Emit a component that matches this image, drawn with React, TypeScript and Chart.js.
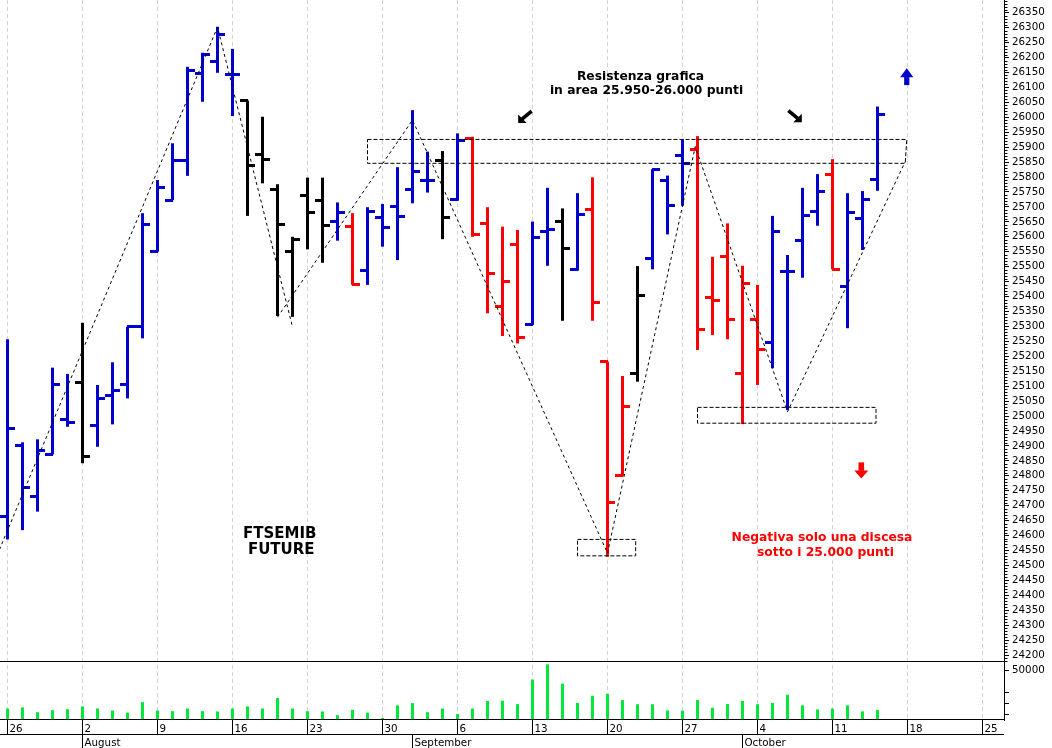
import React, { useEffect, useRef } from 'react';
import { Chart, registerables } from 'chart.js';

Chart.register(...registerables);

// Trading days counted from Monday 26 July (index 0) to Thursday 14 October (index 58)
const OPEN = [24665, 24901, 24732, 24872, 24989, 25112, 24967, 25070, 25106, 25299,
  25550, 25723, 25857, 26145, 26186, 26142, 26056, 25877, 25757, 25550,
  25737, 25723, 25651, 25634, 25486, 25665, 25703, 25757, 25787, 25857,
  25726, 25930, 25643, 25368, 25575, 25305, 25619, 25651, 25489, 25693,
  25182, 24800, 25141, 25528, 25787, 25871, 25891, 25397, 25533, 25143,
  25324, 25247, 25483, 25587, 25684, 25809, 25435, 25660, 25792];
const HIGH = [25257, 24912, 24922, 25162, 25141, 25312, 25104, 25180, 25299, 25679,
  25790, 25913, 26169, 26216, 26303, 26229, 26056, 26002, 25776, 25600,
  25798, 25798, 25715, 25679, 25699, 25710, 25833, 26024, 25885, 25887,
  25946, 25935, 25699, 25634, 25623, 25651, 25764, 25695, 25746, 25799,
  25182, 25134, 25502, 25826, 25805, 25926, 25937, 25533, 25645, 25503,
  25439, 25670, 25539, 25764, 25810, 25860, 25746, 25753, 26036];
const LOW = [24587, 24618, 24680, 24872, 24964, 24842, 24897, 24972, 25059, 25260,
  25550, 25723, 25804, 26052, 26149, 26004, 25670, 25779, 25335, 25332,
  25558, 25513, 25587, 25439, 25439, 25567, 25522, 25712, 25748, 25592,
  25721, 25600, 25344, 25268, 25243, 25305, 25503, 25319, 25487, 25319,
  24529, 24800, 25115, 25491, 25608, 25704, 25221, 25271, 25257, 24973,
  25104, 25160, 25020, 25463, 25637, 25491, 25294, 25556, 25754];
const CLOSE = [24957, 24761, 24884, 25107, 24979, 24866, 25059, 25085, 25299, 25642,
  25766, 25857, 26158, 26209, 26276, 26142, 25838, 25859, 25642, 25592,
  25683, 25638, 25683, 25441, 25684, 25632, 25667, 25820, 25787, 25665,
  25924, 25608, 25478, 25452, 25262, 25598, 25623, 25561, 25676, 25381,
  24711, 25031, 25402, 25826, 25706, 25844, 25288, 25386, 25324, 25444,
  25223, 25619, 25483, 25670, 25753, 25491, 25683, 25726, 26010];
// B = blue, R = red, K = black
const BAR_KIND = ['B', 'B', 'B', 'B', 'B', 'K', 'B', 'B', 'B', 'B',
  'B', 'B', 'B', 'B', 'B', 'B', 'K', 'K', 'K', 'K',
  'K', 'K', 'B', 'R', 'B', 'B', 'B', 'B', 'B', 'K',
  'B', 'R', 'R', 'R', 'R', 'B', 'B', 'K', 'B', 'R',
  'R', 'R', 'K', 'B', 'B', 'B', 'R', 'R', 'R', 'R',
  'R', 'B', 'B', 'B', 'B', 'R', 'B', 'B', 'B'];
const VOLUME = [15400, 16400, 12100, 13900, 14800, 17300, 15400, 13600, 11800, 21200,
  13600, 13000, 15400, 13000, 12700, 15400, 17300, 15400, 25000, 15400,
  13000, 12700, 9400, 14300, 11800, 6800, 18300, 20300, 12100, 15400,
  10300, 15400, 22200, 22500, 19400, 41700, 55500, 38000, 20500, 27000,
  28800, 23000, 19300, 19300, 13700, 13400, 23000, 16200, 19500, 22300,
  19300, 20500, 27900, 18300, 14600, 15300, 18300, 12800, 14000];

const WEEK_LABELS = ['26', '2', '9', '16', '23', '30', '6', '13', '20', '27', '4', '11', '18', '25'];
const WEEK_START_IDX = [0, 5, 10, 15, 20, 25, 30, 35, 40, 45, 50, 55, 60, 65];
const MONTH_LABELS = ['August', 'September', 'October'];
const MONTH_START_IDX = [5, 27, 49];

const PRICE_TICKS: number[] = [];
for (let v = 24200; v <= 26350; v += 50) PRICE_TICKS.push(v);
const VOLUME_TICKS = [10000, 20000, 30000, 50000];
const VOLUME_TICK_LABELS = ['', '', '', '50000'];

// Drawn trend lines (pivot points: day index, price)
const ZIGZAG_A_X = [-1, 14, 19];
const ZIGZAG_A_Y = [24497, 26302, 25298];
const ZIGZAG_B_X = [18, 27, 40, 45.85, 52, 59.83];
const ZIGZAG_B_Y = [25331, 25991, 24541, 25902, 25014, 25850];
// Dashed boxes
const RES_BOX_X = [24, 59.95, 59.85, 24, 24];
const RES_BOX_Y = [25926, 25926, 25846, 25846, 25926];
const LOW_BOX_X = [38, 41.88, 41.88, 38, 38];
const LOW_BOX_Y = [24587, 24587, 24532, 24532, 24587];
const SUP_BOX_X = [46, 57.9, 57.9, 46, 46];
const SUP_BOX_Y = [25029, 25029, 24976, 24976, 25029];

const NOTE_TEXTS = [
  { text: 'Resistenza grafica', x: 42.2, y: 26136, color: '#000000', size: 12.3 },
  { text: 'in area 25.950-26.000 punti', x: 42.6, y: 26088, color: '#000000', size: 12.3 },
  { text: 'FTSEMIB', x: 18.15, y: 24604, color: '#000000', size: 15 },
  { text: 'FUTURE', x: 18.25, y: 24551, color: '#000000', size: 15 },
  { text: 'Negativa solo una discesa', x: 54.3, y: 24591, color: '#FF0000', size: 12.3 },
  { text: 'sotto i 25.000 punti', x: 54.53, y: 24542, color: '#FF0000', size: 12.3 },
];
const NOTE_ARROWS = [
  { dir: 'downLeft', x: 34.5, y: 26001, color: '#000000' },
  { dir: 'downRight', x: 52.5, y: 26003, color: '#000000' },
  { dir: 'up', x: 59.95, y: 26136, color: '#0000CC' },
  { dir: 'down', x: 56.92, y: 24818, color: '#FF0000' },
];

const COLORS: Record<string, string> = { B: '#0000CC', R: '#FF0000', K: '#000000' };
const VOLUME_COLOR = '#00E83A';

const overlayPlugin = {
  id: 'overlay',
  afterDraw(chart: any) {
    const { ctx, chartArea } = chart;
    const xs = chart.scales.x;
    const ys = chart.scales.y;
    const px = (v: number) => xs.getPixelForValue(v);
    const py = (v: number) => ys.getPixelForValue(v);
    ctx.save();
    ctx.strokeStyle = '#000';
    ctx.lineWidth = 1;
    const hline = (x1: number, x2: number, y: number) => {
      ctx.beginPath(); ctx.moveTo(x1, y); ctx.lineTo(x2, y); ctx.stroke();
    };
    const vline = (x: number, y1: number, y2: number) => {
      ctx.beginPath(); ctx.moveTo(x, y1); ctx.lineTo(x, y2); ctx.stroke();
    };
    // pane separator
    hline(chartArea.left, chartArea.right, Math.round(ys.bottom) - 0.5);
    // date axis
    const axisY = Math.round(chartArea.bottom) - 0.5;
    const rowY = axisY + 15;
    hline(chartArea.left, chartArea.right, axisY);
    hline(chartArea.left, chartArea.right, rowY);
    ctx.fillStyle = '#000';
    ctx.font = '10.3px "DejaVu Sans"';
    ctx.textAlign = 'left';
    ctx.textBaseline = 'middle';
    WEEK_START_IDX.forEach((d, k) => {
      const x = Math.floor(px(d)) + 0.5;
      vline(x, axisY, rowY);
      ctx.fillText(WEEK_LABELS[k], x + 2, (axisY + rowY) / 2 + 2);
    });
    MONTH_START_IDX.forEach((d, k) => {
      const x = Math.floor(px(d)) + 0.5;
      vline(x, rowY, chart.height);
      ctx.fillText(MONTH_LABELS[k], x + 2, rowY + 9);
    });
    // minor ticks on price axis
    for (let v = 24180; v <= 26390; v += 10) {
      if (v % 50 === 0) continue;
      const y = Math.round(py(v)) + 0.5;
      if (y < ys.top || y > ys.bottom) continue;
      hline(ys.left, ys.left + 3.5, y);
    }
    // texts
    ctx.textAlign = 'center';
    NOTE_TEXTS.forEach((t) => {
      ctx.fillStyle = t.color;
      ctx.font = `bold ${t.size}px "DejaVu Sans"`;
      ctx.fillText(t.text, px(t.x), py(t.y));
    });
    // arrows
    NOTE_ARROWS.forEach((a) => {
      const cx = px(a.x);
      const cy = py(a.y);
      ctx.fillStyle = a.color;
      ctx.strokeStyle = a.color;
      ctx.beginPath();
      if (a.dir === 'up') {
        ctx.moveTo(cx, cy - 8.4);
        ctx.lineTo(cx + 6.6, cy + 0.6);
        ctx.lineTo(cx - 6.6, cy + 0.6);
        ctx.closePath();
        ctx.fill();
        ctx.fillRect(cx - 2.6, cy + 0.4, 5.2, 8);
      } else if (a.dir === 'down') {
        ctx.moveTo(cx, cy + 8);
        ctx.lineTo(cx + 7, cy + 0.2);
        ctx.lineTo(cx - 7, cy + 0.2);
        ctx.closePath();
        ctx.fill();
        ctx.fillRect(cx - 2.8, cy - 8, 5.6, 8.4);
      } else {
        const s = a.dir === 'downLeft' ? -1 : 1;
        ctx.moveTo(cx + s * 6.8, cy + 5.9);
        ctx.lineTo(cx + s * 6.8, cy - 2.6);
        ctx.lineTo(cx - s * 1.7, cy + 5.9);
        ctx.closePath();
        ctx.fill();
        ctx.lineWidth = 3.6;
        ctx.beginPath();
        ctx.moveTo(cx + s * 3, cy + 2.2);
        ctx.lineTo(cx - s * 6.6, cy - 5.8);
        ctx.stroke();
        ctx.lineWidth = 1;
      }
    });
    ctx.restore();
  },
};

function tickImage(color: string, side: 'open' | 'close') {
  const c = document.createElement('canvas');
  c.width = 15;
  c.height = 3;
  const g = c.getContext('2d')!;
  g.fillStyle = color;
  if (side === 'open') g.fillRect(0, 0, 8, 3);
  else g.fillRect(7, 0, 8, 3);
  return c;
}

const fitY = (s: any) => {
  s.width = 48;
  s.paddingTop = 0;
  s.paddingBottom = 0;
};

export default function App() {
  const ref = useRef<HTMLCanvasElement>(null);
  useEffect(() => {
    const canvas = ref.current;
    if (!canvas) return;
    const openImg: Record<string, HTMLCanvasElement> = {};
    const closeImg: Record<string, HTMLCanvasElement> = {};
    Object.keys(COLORS).forEach((k) => {
      openImg[k] = tickImage(COLORS[k], 'open');
      closeImg[k] = tickImage(COLORS[k], 'close');
    });
    const toPts = (xsArr: number[], ysArr: number[]) => xsArr.map((x, i) => ({ x, y: ysArr[i] }));
    const dashed = (xsArr: number[], ysArr: number[], dash: number[]) => ({
      type: 'line' as const,
      data: toPts(xsArr, ysArr),
      borderColor: '#000',
      borderWidth: 1,
      borderDash: dash,
      pointRadius: 0,
      fill: false,
      tension: 0,
      yAxisID: 'y',
      order: 0,
    });
    const chart = new Chart(canvas, {
      type: 'bar',
      data: {
        datasets: [
          dashed(ZIGZAG_A_X, ZIGZAG_A_Y, [3, 3]),
          dashed(ZIGZAG_B_X, ZIGZAG_B_Y, [3, 3]),
          dashed(RES_BOX_X, RES_BOX_Y, [4, 2]),
          dashed(LOW_BOX_X, LOW_BOX_Y, [4, 2]),
          dashed(SUP_BOX_X, SUP_BOX_Y, [4, 2]),
          {
            type: 'scatter',
            data: OPEN.map((v, i) => ({ x: i, y: v })),
            pointStyle: BAR_KIND.map((k) => openImg[k]),
            pointRadius: 4,
            pointHoverRadius: 4,
            yAxisID: 'y',
            order: 1,
          } as any,
          {
            type: 'scatter',
            data: CLOSE.map((v, i) => ({ x: i, y: v })),
            pointStyle: BAR_KIND.map((k) => closeImg[k]),
            pointRadius: 4,
            pointHoverRadius: 4,
            yAxisID: 'y',
            order: 1,
          } as any,
          {
            type: 'bar',
            data: LOW.map((v, i) => ({ x: i, y: [v, HIGH[i]] })),
            backgroundColor: BAR_KIND.map((k) => COLORS[k]),
            barThickness: 3,
            grouped: false,
            borderWidth: 0,
            inflateAmount: 0,
            yAxisID: 'y',
            order: 2,
          } as any,
          {
            type: 'bar',
            data: VOLUME.map((v, i) => ({ x: i, y: v })),
            backgroundColor: VOLUME_COLOR,
            barThickness: 3,
            grouped: false,
            borderWidth: 0,
            inflateAmount: 0,
            yAxisID: 'yv',
            order: 3,
          } as any,
        ],
      },
      options: {
        responsive: false,
        animation: false,
        events: [],
        layout: { padding: 0, autoPadding: false },
        plugins: { legend: { display: false }, tooltip: { enabled: false } },
        scales: {
          x: {
            type: 'linear',
            position: 'bottom',
            offset: false,
            min: -0.5,
            max: 66.4333,
            afterBuildTicks: (s: any) => { s.ticks = WEEK_START_IDX.map((v) => ({ value: v })); },
            afterFit: (s: any) => { s.height = 28; s.paddingLeft = 0; s.paddingRight = 0; },
            ticks: { display: false },
            grid: { color: '#d2d2da', lineWidth: 1, drawTicks: false, offset: false },
            border: { display: false, dash: [4, 3] },
          },
          y: {
            type: 'linear',
            position: 'right',
            stack: 'panes',
            stackWeight: 662,
            min: 24176.6,
            max: 26392.7,
            afterBuildTicks: (s: any) => { s.ticks = PRICE_TICKS.map((v) => ({ value: v })); },
            afterFit: fitY,
            ticks: {
              autoSkip: false,
              padding: 3,
              color: '#000',
              font: { family: 'DejaVu Sans', size: 10.3 },
              callback: (v: any) => String(v),
            },
            grid: { drawOnChartArea: false, drawTicks: true, tickLength: 5, tickColor: '#000', color: '#000' },
            border: { display: true, color: '#000', width: 1 },
          },
          yv: {
            type: 'linear',
            position: 'right',
            stack: 'panes',
            stackWeight: 58,
            min: 5000,
            max: 57600,
            afterBuildTicks: (s: any) => { s.ticks = VOLUME_TICKS.map((v) => ({ value: v })); },
            afterFit: fitY,
            ticks: {
              autoSkip: false,
              padding: 3,
              color: '#000',
              font: { family: 'DejaVu Sans', size: 10.3 },
              callback: (_v: any, i: number) => VOLUME_TICK_LABELS[i],
            },
            grid: { drawOnChartArea: false, drawTicks: true, tickLength: 5, tickColor: '#000', color: '#000' },
            border: { display: true, color: '#000', width: 1 },
          },
        } as any,
      },
      plugins: [overlayPlugin],
    } as any);
    return () => chart.destroy();
  }, []);
  return (
    <div style={{ position: 'absolute', left: 0, top: 0, width: 1052, height: 748, background: '#fff' }}>
      <canvas ref={ref} width={1052} height={748} style={{ display: 'block', width: 1052, height: 748 }} />
    </div>
  );
}
